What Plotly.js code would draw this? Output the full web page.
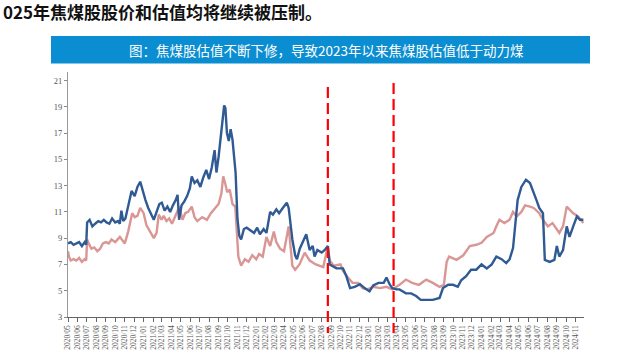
<!DOCTYPE html>
<html>
<head>
<meta charset="utf-8">
<script src="https://cdn.plot.ly/plotly-3.0.1.min.js"></script>
<style>html,body{margin:0;padding:0;background:#fff;}#chart{width:622px;height:357px;}</style>
</head>
<body>
<div id="chart"></div>
<script>
// ---- data ----
const headingText = "025年焦煤股股价和估值均将继续被压制。";
const chartTitle = "图：焦煤股估值不断下修，导致2023年以来焦煤股估值低于动力煤";

const blueDates = ["2020-05-01","2020-05-10","2020-05-19","2020-05-28","2020-06-06","2020-06-15","2020-06-24","2020-06-29","2020-07-02","2020-07-10","2020-07-19","2020-07-28","2020-08-07","2020-08-16","2020-08-25","2020-09-03","2020-09-12","2020-09-21","2020-10-01","2020-10-10","2020-10-16","2020-10-21","2020-10-27","2020-11-03","2020-11-12","2020-11-23","2020-12-03","2020-12-12","2020-12-21","2020-12-29","2021-01-07","2021-01-16","2021-01-25","2021-02-03","2021-02-12","2021-02-21","2021-03-01","2021-03-10","2021-03-19","2021-03-28","2021-04-06","2021-04-15","2021-04-21","2021-04-26","2021-05-04","2021-05-13","2021-05-22","2021-05-31","2021-06-06","2021-06-15","2021-06-24","2021-07-04","2021-07-13","2021-07-23","2021-08-01","2021-08-10","2021-08-19","2021-08-25","2021-09-01","2021-09-07","2021-09-13","2021-09-19","2021-09-23","2021-09-28","2021-10-04","2021-10-10","2021-10-16","2021-10-22","2021-10-26","2021-11-01","2021-11-07","2021-11-13","2021-11-22","2021-12-01","2021-12-13","2021-12-25","2022-01-04","2022-01-13","2022-01-25","2022-02-03","2022-02-15","2022-02-24","2022-03-07","2022-03-16","2022-03-28","2022-04-10","2022-04-16","2022-04-22","2022-04-28","2022-05-07","2022-05-13","2022-05-22","2022-06-07","2022-06-12","2022-06-23","2022-07-03","2022-07-09","2022-07-18","2022-08-01","2022-08-11","2022-08-21","2022-08-27","2022-09-18","2022-10-09","2022-10-20","2022-11-01","2022-11-16","2022-12-03","2022-12-18","2023-01-03","2023-01-15","2023-02-01","2023-02-18","2023-02-27","2023-03-09","2023-03-18","2023-04-01","2023-04-10","2023-05-01","2023-05-18","2023-06-03","2023-06-18","2023-07-06","2023-07-27","2023-08-18","2023-08-29","2023-09-15","2023-10-01","2023-10-16","2023-10-27","2023-11-12","2023-11-28","2023-12-15","2024-01-01","2024-01-18","2024-02-03","2024-02-18","2024-03-06","2024-03-21","2024-04-01","2024-04-12","2024-04-21","2024-04-27","2024-05-09","2024-05-24","2024-06-06","2024-06-15","2024-06-27","2024-07-06","2024-07-18","2024-07-24","2024-08-09","2024-08-24","2024-09-01","2024-09-09","2024-09-21","2024-10-03","2024-10-12","2024-10-24","2024-11-05","2024-11-15","2024-11-26"];
const blueVals = [8.6,8.7,8.5,8.6,8.7,8.4,8.7,8.5,10.2,10.4,9.9,10.1,10.3,10.2,10.4,10.2,10.1,10.5,10.2,10.3,10.1,11.1,10.3,10.5,11.4,12.6,12.2,12.9,13.3,12.6,11.9,11.3,10.8,10.4,11.0,11.6,11.7,11.1,11.4,11.0,11.5,11.9,12.3,10.4,11.5,11.8,12.2,12.8,13.7,13.2,13.4,12.9,13.6,14.2,13.5,14.4,15.7,14.0,15.2,16.5,17.8,19.1,18.9,17.0,16.4,17.3,16.5,15.0,14.0,10.5,9.2,8.9,9.7,9.8,9.6,9.4,9.8,9.3,9.7,9.4,11.0,10.8,11.2,10.9,11.3,11.7,11.3,10.2,8.9,7.7,7.4,8.2,9.1,9.3,8.1,8.4,7.6,8.1,7.9,8.1,8.4,7.0,6.7,6.7,6.1,5.2,5.3,5.5,5.2,4.95,5.4,5.6,5.6,6.0,5.5,5.2,5.1,5.1,4.8,4.8,4.6,4.3,4.3,4.3,4.45,5.2,5.45,5.45,5.3,5.8,6.1,6.6,6.6,7.0,6.7,7.0,7.6,7.4,7.1,7.4,8.25,10.4,11.9,12.9,13.45,13.2,12.7,11.9,11.3,10.9,7.35,7.2,7.35,8.4,7.6,8.1,9.9,9.1,9.9,10.65,10.4,10.4];

const redDates = ["2020-05-01","2020-05-04","2020-05-10","2020-05-19","2020-05-28","2020-06-06","2020-06-15","2020-06-24","2020-06-29","2020-07-02","2020-07-07","2020-07-16","2020-07-25","2020-08-04","2020-08-13","2020-08-22","2020-09-01","2020-09-10","2020-09-19","2020-10-01","2020-10-16","2020-11-01","2020-11-12","2020-11-25","2020-12-03","2020-12-12","2020-12-21","2021-01-01","2021-01-10","2021-01-19","2021-01-28","2021-02-03","2021-02-12","2021-02-19","2021-02-28","2021-03-07","2021-03-16","2021-03-25","2021-04-03","2021-04-12","2021-04-27","2021-05-07","2021-05-16","2021-05-25","2021-06-06","2021-06-15","2021-06-24","2021-07-10","2021-07-25","2021-08-07","2021-08-19","2021-09-01","2021-09-10","2021-09-16","2021-09-22","2021-09-29","2021-10-07","2021-10-16","2021-10-25","2021-10-30","2021-11-04","2021-11-13","2021-11-25","2021-12-07","2021-12-19","2022-01-01","2022-01-10","2022-01-22","2022-02-03","2022-02-15","2022-02-27","2022-03-07","2022-03-19","2022-04-01","2022-04-10","2022-04-16","2022-04-28","2022-05-07","2022-05-21","2022-06-07","2022-06-23","2022-07-13","2022-08-06","2022-08-21","2022-08-27","2022-09-09","2022-10-01","2022-10-09","2022-10-25","2022-11-09","2022-11-27","2022-12-12","2022-12-28","2023-01-15","2023-02-06","2023-02-27","2023-03-18","2023-04-10","2023-05-01","2023-05-21","2023-06-12","2023-07-06","2023-07-27","2023-08-18","2023-09-01","2023-09-10","2023-09-18","2023-10-12","2023-11-03","2023-11-24","2023-12-15","2024-01-01","2024-01-18","2024-02-09","2024-02-18","2024-02-28","2024-03-15","2024-04-01","2024-04-12","2024-04-24","2024-05-09","2024-05-21","2024-06-06","2024-06-18","2024-07-06","2024-07-18","2024-08-03","2024-08-18","2024-09-09","2024-09-21","2024-10-03","2024-10-24","2024-11-09","2024-11-26"];
const redVals = [8.0,7.6,7.3,7.4,7.3,7.5,7.2,7.4,7.3,8.9,8.6,8.2,8.3,8.0,8.2,8.6,8.7,8.6,8.9,8.7,9.1,8.6,9.5,10.9,10.6,10.7,11.3,10.9,10.0,9.6,9.2,9.0,9.4,10.8,10.4,10.7,10.3,10.5,10.1,10.6,11.4,10.4,10.9,11.0,11.4,10.6,10.3,10.6,10.4,10.9,11.2,11.6,12.4,13.7,13.2,12.5,12.7,11.6,11.4,9.0,7.6,6.9,7.4,7.2,7.7,7.4,7.8,7.6,9.1,8.4,9.5,8.7,8.2,8.0,9.0,9.9,6.9,6.6,7.0,7.9,7.3,7.0,6.8,8.4,7.3,6.9,7.0,6.5,6.0,5.6,5.6,5.2,5.1,5.3,5.2,5.3,5.1,5.45,5.85,5.6,5.45,5.85,5.6,5.3,5.45,7.2,7.6,7.35,7.7,8.4,8.5,8.65,9.1,9.4,9.9,10.4,10.15,10.4,11.0,10.65,11.0,11.5,11.4,11.3,10.9,10.4,9.9,10.15,9.4,9.9,11.4,10.9,10.65,10.15];

const xTickFormat = "%Y/%m";
const yTickVals = [3,5,7,9,11,13,15,17,19,21];
const markerDates = ["2022-08-21","2023-03-22"];

// ---- layout helpers (pixel -> paper) ----
const W = 622, H = 357;
const M = {l:68, r:38, t:72, b:40};
const pw = W - M.l - M.r, ph = H - M.t - M.b;
const px = x => (x - M.l) / pw;
const py = y => (H - M.b - y) / ph;

const traces = [
  {x: redDates, y: redVals, type: 'scatter', mode: 'lines',
   line: {color: '#D99694', width: 2.4}, hoverinfo: 'skip'},
  {x: blueDates, y: blueVals, type: 'scatter', mode: 'lines',
   line: {color: '#2F5A93', width: 2.4}, hoverinfo: 'skip'}
];

const shapes = [
  {type: 'rect', xref: 'paper', yref: 'paper', x0: px(51), x1: px(590), y0: py(63.5), y1: py(36),
   fillcolor: '#0B8ED1', line: {width: 0}, layer: 'below'}
];
const dashTops = [87, 83];
markerDates.forEach((d, i) => {
  shapes.push({type: 'line', xref: 'x', yref: 'paper', x0: d, x1: d,
    y0: py(dashTops[i]), y1: py(333),
    line: {color: '#FF0000', width: 2.2, dash: '11px,5px'}});
});

const layout = {
  width: W, height: H,
  margin: M,
  paper_bgcolor: '#ffffff', plot_bgcolor: '#ffffff',
  showlegend: false,
  xaxis: {
    type: 'date', range: ['2020-05-01', '2024-11-28'],
    tick0: '2020-05-01', dtick: 'M1', tickformat: xTickFormat,
    tickangle: -90, ticks: 'outside', ticklen: 4, tickcolor: '#666', tickwidth: 1,
    tickfont: {family: 'Liberation Serif, serif', size: 7.5, color: '#555'},
    showline: true, linecolor: '#666', linewidth: 1.2,
    showgrid: false, zeroline: false, fixedrange: true
  },
  yaxis: {
    range: [3, 21.65], tickvals: yTickVals,
    ticks: 'outside', ticklen: 3, tickcolor: '#888',
    tickfont: {family: 'Liberation Serif, serif', size: 8.5, color: '#555'},
    showline: true, linecolor: '#999', linewidth: 1,
    showgrid: false, zeroline: false, fixedrange: true
  },
  shapes: shapes,
  annotations: [
    {xref: 'paper', yref: 'paper', x: px(2), y: py(12), xanchor: 'left', yanchor: 'middle',
     text: '<b>' + headingText + '</b>', showarrow: false, borderpad: 0,
     font: {family: 'Noto Sans CJK SC, sans-serif', size: 17, color: '#111'}},
    {xref: 'paper', yref: 'paper', x: px(326), y: py(49.5), xanchor: 'center', yanchor: 'middle',
     text: chartTitle, showarrow: false,
     font: {family: 'Noto Sans CJK SC, serif', size: 13.5, color: '#ffffff'}}
  ]
};

Plotly.newPlot('chart', traces, layout, {staticPlot: true, displayModeBar: false});
</script>
</body>
</html>
